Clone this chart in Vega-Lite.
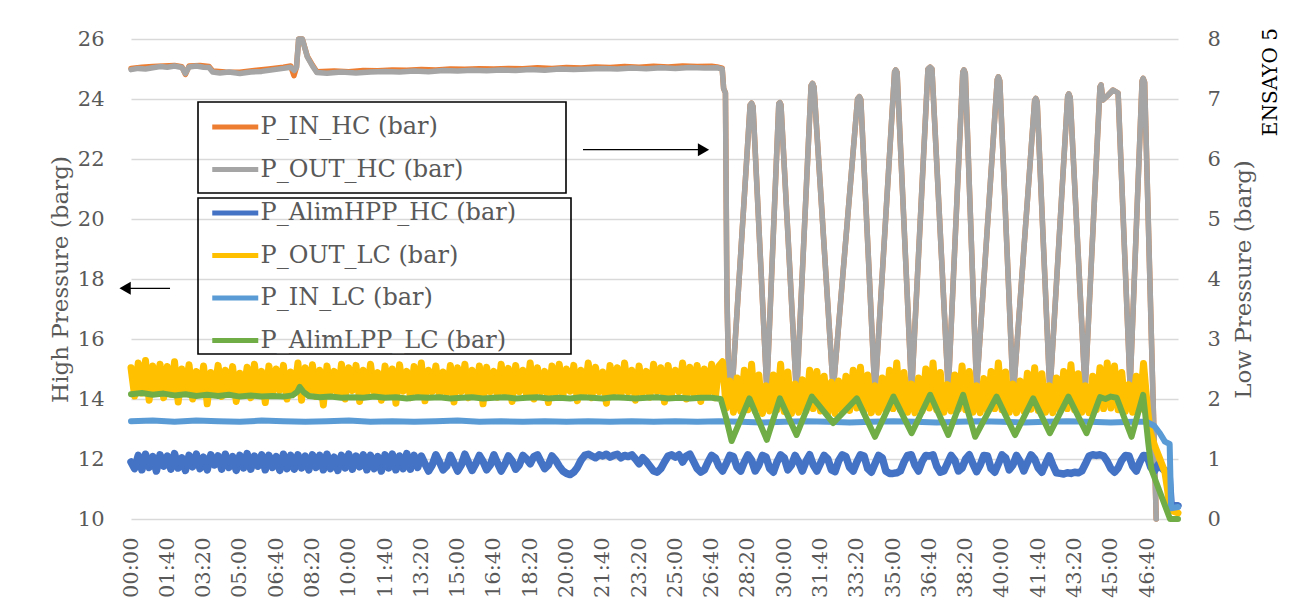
{
"$schema": "https://vega.github.io/schema/vega-lite/v6.json",
"width": 1047, "height": 480,
"autosize": {"type": "none"},
"padding": {"left": 131, "top": 39, "right": 115, "bottom": 87},
"background": "white",
"config": {
  "font": "DejaVu Serif",
  "view": {"stroke": null},
  "axis": {"labelFont": "DejaVu Serif", "titleFont": "DejaVu Serif", "labelColor": "#595959", "titleColor": "#595959", "titleFontWeight": "normal", "domain": false, "ticks": false, "labelFontSize": 21, "titleFontSize": 23},
  "legend": {"symbolType": "M-2,0H2", "symbolSize": 529, "symbolStrokeWidth": 4.5, "labelFont": "DejaVu Serif", "labelFontSize": 24, "labelColor": "#595959", "labelLimit": 800, "rowPadding": 16.5, "strokeColor": "#000000", "strokeWidth": 1.6},
  "line": {"strokeWidth": 5, "strokeJoin": "round", "strokeCap": "round"}
},
"title": {"text": "ENSAYO 5", "orient": "right", "anchor": "start", "angle": 270, "align": "right", "baseline": "top", "font": "DejaVu Serif", "fontSize": 20, "fontWeight": "normal", "color": "#000000", "offset": -14},
"datasets": {
"ho": [{"t":0,"v":24.98},{"t":20,"v":25.02},{"t":40,"v":25.0},{"t":60,"v":25.04},{"t":80,"v":25.08},{"t":100,"v":25.06},{"t":120,"v":25.1},{"t":140,"v":25.05},{"t":150,"v":24.85},{"t":160,"v":25.07},{"t":180,"v":25.1},{"t":200,"v":25.06},{"t":215,"v":25.05},{"t":225,"v":24.9},{"t":245,"v":24.87},{"t":270,"v":24.9},{"t":300,"v":24.85},{"t":330,"v":24.9},{"t":360,"v":24.92},{"t":390,"v":24.97},{"t":420,"v":25.02},{"t":440,"v":25.06},{"t":450,"v":24.95},{"t":456,"v":25.05},{"t":462,"v":26.0},{"t":472,"v":26.0},{"t":486,"v":25.4},{"t":500,"v":25.1},{"t":512,"v":24.88},{"t":540,"v":24.86},{"t":580,"v":24.9},{"t":620,"v":24.87},{"t":660,"v":24.9},{"t":700,"v":24.92},{"t":740,"v":24.9},{"t":780,"v":24.93},{"t":820,"v":24.91},{"t":860,"v":24.95},{"t":900,"v":24.93},{"t":940,"v":24.96},{"t":980,"v":24.94},{"t":1020,"v":24.97},{"t":1060,"v":24.95},{"t":1100,"v":24.98},{"t":1140,"v":24.96},{"t":1180,"v":25.0},{"t":1220,"v":24.98},{"t":1260,"v":25.0},{"t":1300,"v":25.02},{"t":1340,"v":25.0},{"t":1380,"v":25.03},{"t":1420,"v":25.01},{"t":1460,"v":25.04},{"t":1500,"v":25.02},{"t":1540,"v":25.05},{"t":1580,"v":25.03},{"t":1615,"v":25.04},{"t":1629,"v":25.0},{"t":1633,"v":24.35},{"t":1638,"v":24.2},{"t":1642,"v":17.5},{"t":1646,"v":15.2},{"t":1655,"v":14.05},{"t":1706,"v":23.8},{"t":1710,"v":23.86},{"t":1714,"v":23.75},{"t":1752,"v":14.3},{"t":1785,"v":23.85},{"t":1788,"v":23.88},{"t":1791,"v":23.8},{"t":1834,"v":14.1},{"t":1874,"v":24.45},{"t":1878,"v":24.52},{"t":1882,"v":24.4},{"t":1935,"v":14.3},{"t":2002,"v":24.0},{"t":2007,"v":24.08},{"t":2011,"v":23.98},{"t":2050,"v":14.15},{"t":2104,"v":24.9},{"t":2107,"v":24.97},{"t":2111,"v":24.88},{"t":2151,"v":14.25},{"t":2196,"v":25.0},{"t":2202,"v":25.06},{"t":2207,"v":25.0},{"t":2252,"v":14.3},{"t":2292,"v":24.9},{"t":2295,"v":24.97},{"t":2299,"v":24.85},{"t":2330,"v":14.35},{"t":2387,"v":24.65},{"t":2390,"v":24.74},{"t":2394,"v":24.6},{"t":2431,"v":14.1},{"t":2490,"v":23.95},{"t":2493,"v":24.02},{"t":2497,"v":23.9},{"t":2532,"v":14.2},{"t":2581,"v":24.1},{"t":2584,"v":24.17},{"t":2588,"v":24.05},{"t":2629,"v":14.3},{"t":2670,"v":24.4},{"t":2673,"v":24.47},{"t":2678,"v":23.97},{"t":2690,"v":24.1},{"t":2706,"v":24.3},{"t":2720,"v":24.2},{"t":2753,"v":14.4},{"t":2786,"v":24.6},{"t":2789,"v":24.69},{"t":2793,"v":24.55},{"t":2825,"v":10.0}],
"hi": [{"t":0,"v":25.02},{"t":30,"v":25.06},{"t":60,"v":25.08},{"t":90,"v":25.1},{"t":120,"v":25.12},{"t":140,"v":25.08},{"t":150,"v":24.82},{"t":160,"v":25.1},{"t":190,"v":25.12},{"t":215,"v":25.08},{"t":225,"v":24.93},{"t":260,"v":24.9},{"t":300,"v":24.89},{"t":340,"v":24.95},{"t":380,"v":25.0},{"t":420,"v":25.06},{"t":440,"v":25.1},{"t":449,"v":24.78},{"t":456,"v":25.06},{"t":462,"v":26.0},{"t":472,"v":26.0},{"t":486,"v":25.42},{"t":500,"v":25.13},{"t":512,"v":24.91},{"t":560,"v":24.93},{"t":600,"v":24.91},{"t":640,"v":24.95},{"t":680,"v":24.94},{"t":720,"v":24.97},{"t":760,"v":24.96},{"t":800,"v":24.98},{"t":840,"v":24.97},{"t":880,"v":25.0},{"t":920,"v":24.99},{"t":960,"v":25.01},{"t":1000,"v":25.0},{"t":1040,"v":25.02},{"t":1080,"v":25.01},{"t":1120,"v":25.04},{"t":1160,"v":25.02},{"t":1200,"v":25.05},{"t":1240,"v":25.03},{"t":1280,"v":25.07},{"t":1320,"v":25.05},{"t":1360,"v":25.08},{"t":1400,"v":25.06},{"t":1440,"v":25.09},{"t":1480,"v":25.07},{"t":1520,"v":25.1},{"t":1560,"v":25.08},{"t":1600,"v":25.09},{"t":1615,"v":25.07},{"t":1629,"v":25.03},{"t":1633,"v":24.35},{"t":1638,"v":24.2},{"t":1642,"v":17.5},{"t":1646,"v":15.2},{"t":1655,"v":14.05},{"t":1706,"v":23.8},{"t":1710,"v":23.86},{"t":1714,"v":23.75},{"t":1752,"v":14.3},{"t":1785,"v":23.85},{"t":1788,"v":23.88},{"t":1791,"v":23.8},{"t":1834,"v":14.1},{"t":1874,"v":24.45},{"t":1878,"v":24.52},{"t":1882,"v":24.4},{"t":1935,"v":14.3},{"t":2002,"v":24.0},{"t":2007,"v":24.08},{"t":2011,"v":23.98},{"t":2050,"v":14.15},{"t":2104,"v":24.9},{"t":2107,"v":24.97},{"t":2111,"v":24.88},{"t":2151,"v":14.25},{"t":2196,"v":25.0},{"t":2202,"v":25.06},{"t":2207,"v":25.0},{"t":2252,"v":14.3},{"t":2292,"v":24.9},{"t":2295,"v":24.97},{"t":2299,"v":24.85},{"t":2330,"v":14.35},{"t":2387,"v":24.65},{"t":2390,"v":24.74},{"t":2394,"v":24.6},{"t":2431,"v":14.1},{"t":2490,"v":23.95},{"t":2493,"v":24.02},{"t":2497,"v":23.9},{"t":2532,"v":14.2},{"t":2581,"v":24.1},{"t":2584,"v":24.17},{"t":2588,"v":24.05},{"t":2629,"v":14.3},{"t":2670,"v":24.4},{"t":2673,"v":24.47},{"t":2678,"v":23.97},{"t":2690,"v":24.1},{"t":2706,"v":24.3},{"t":2720,"v":24.2},{"t":2753,"v":14.4},{"t":2786,"v":24.6},{"t":2789,"v":24.69},{"t":2793,"v":24.55},{"t":2825,"v":10.0}],
"a": [{"t":0,"v":0.95},{"t":10,"v":0.84},{"t":20,"v":1.06},{"t":30,"v":0.82},{"t":40,"v":1.08},{"t":50,"v":0.86},{"t":60,"v":1.04},{"t":70,"v":0.8},{"t":80,"v":1.07},{"t":90,"v":0.88},{"t":100,"v":1.05},{"t":110,"v":0.83},{"t":120,"v":1.09},{"t":130,"v":0.85},{"t":140,"v":1.02},{"t":150,"v":0.81},{"t":160,"v":1.06},{"t":170,"v":0.87},{"t":180,"v":1.08},{"t":190,"v":0.84},{"t":200,"v":1.03},{"t":210,"v":0.82},{"t":220,"v":1.07},{"t":230,"v":0.9},{"t":240,"v":1.05},{"t":250,"v":0.83},{"t":260,"v":1.08},{"t":270,"v":0.86},{"t":280,"v":1.04},{"t":290,"v":0.81},{"t":300,"v":1.06},{"t":310,"v":0.85},{"t":320,"v":1.09},{"t":330,"v":0.83},{"t":340,"v":1.05},{"t":350,"v":0.88},{"t":360,"v":1.07},{"t":370,"v":0.82},{"t":380,"v":1.06},{"t":390,"v":0.86},{"t":400,"v":1.04},{"t":410,"v":0.81},{"t":420,"v":1.08},{"t":430,"v":0.84},{"t":440,"v":1.06},{"t":450,"v":0.83},{"t":460,"v":1.07},{"t":470,"v":0.85},{"t":480,"v":1.05},{"t":490,"v":0.82},{"t":500,"v":1.07},{"t":510,"v":0.86},{"t":520,"v":1.06},{"t":530,"v":0.82},{"t":540,"v":1.08},{"t":550,"v":0.84},{"t":560,"v":1.03},{"t":570,"v":0.81},{"t":580,"v":1.06},{"t":590,"v":0.85},{"t":600,"v":1.08},{"t":610,"v":0.83},{"t":620,"v":1.05},{"t":630,"v":0.87},{"t":640,"v":1.07},{"t":650,"v":0.82},{"t":660,"v":1.06},{"t":670,"v":0.84},{"t":680,"v":1.04},{"t":690,"v":0.8},{"t":700,"v":1.07},{"t":710,"v":0.85},{"t":720,"v":1.08},{"t":730,"v":0.82},{"t":740,"v":1.05},{"t":750,"v":0.84},{"t":760,"v":1.09},{"t":770,"v":0.83},{"t":780,"v":1.06},{"t":790,"v":0.86},{"t":800,"v":1.05},{"t":810,"v":0.92},{"t":820,"v":0.8},{"t":830,"v":0.9},{"t":840,"v":1.07},{"t":850,"v":0.95},{"t":860,"v":0.82},{"t":870,"v":0.88},{"t":880,"v":1.06},{"t":890,"v":0.93},{"t":900,"v":0.8},{"t":910,"v":0.9},{"t":920,"v":1.08},{"t":930,"v":0.94},{"t":940,"v":0.81},{"t":950,"v":0.92},{"t":960,"v":1.06},{"t":970,"v":0.96},{"t":980,"v":0.82},{"t":990,"v":0.9},{"t":1000,"v":1.07},{"t":1010,"v":0.93},{"t":1020,"v":0.8},{"t":1030,"v":0.91},{"t":1040,"v":1.05},{"t":1050,"v":0.97},{"t":1060,"v":0.83},{"t":1070,"v":0.9},{"t":1080,"v":1.06},{"t":1090,"v":1.0},{"t":1100,"v":0.92},{"t":1110,"v":1.04},{"t":1120,"v":1.07},{"t":1130,"v":0.95},{"t":1140,"v":0.84},{"t":1150,"v":0.9},{"t":1160,"v":1.05},{"t":1170,"v":0.98},{"t":1180,"v":0.88},{"t":1190,"v":0.8},{"t":1200,"v":0.76},{"t":1210,"v":0.74},{"t":1220,"v":0.78},{"t":1230,"v":0.86},{"t":1240,"v":0.98},{"t":1250,"v":1.06},{"t":1260,"v":1.08},{"t":1270,"v":1.05},{"t":1280,"v":1.02},{"t":1290,"v":1.07},{"t":1300,"v":1.05},{"t":1310,"v":1.08},{"t":1320,"v":1.03},{"t":1330,"v":1.06},{"t":1340,"v":1.08},{"t":1350,"v":1.02},{"t":1360,"v":1.06},{"t":1370,"v":1.04},{"t":1380,"v":1.07},{"t":1390,"v":1.0},{"t":1400,"v":0.92},{"t":1410,"v":1.02},{"t":1420,"v":0.96},{"t":1430,"v":0.88},{"t":1440,"v":0.8},{"t":1450,"v":0.78},{"t":1460,"v":0.84},{"t":1470,"v":0.95},{"t":1480,"v":1.05},{"t":1490,"v":1.07},{"t":1500,"v":1.03},{"t":1510,"v":1.07},{"t":1520,"v":0.95},{"t":1530,"v":1.05},{"t":1540,"v":1.08},{"t":1550,"v":0.96},{"t":1560,"v":0.84},{"t":1570,"v":0.78},{"t":1580,"v":0.82},{"t":1590,"v":0.95},{"t":1600,"v":1.06},{"t":1610,"v":1.02},{"t":1620,"v":0.88},{"t":1630,"v":0.8},{"t":1640,"v":0.92},{"t":1650,"v":1.06},{"t":1660,"v":1.04},{"t":1670,"v":0.86},{"t":1680,"v":0.8},{"t":1690,"v":0.95},{"t":1700,"v":1.07},{"t":1710,"v":0.98},{"t":1720,"v":0.8},{"t":1730,"v":0.9},{"t":1740,"v":1.06},{"t":1750,"v":1.03},{"t":1760,"v":0.84},{"t":1770,"v":0.78},{"t":1780,"v":0.95},{"t":1790,"v":1.07},{"t":1800,"v":1.02},{"t":1810,"v":0.82},{"t":1820,"v":0.9},{"t":1830,"v":1.06},{"t":1840,"v":0.95},{"t":1850,"v":0.8},{"t":1860,"v":0.96},{"t":1870,"v":1.07},{"t":1880,"v":0.9},{"t":1890,"v":0.8},{"t":1900,"v":0.93},{"t":1910,"v":1.06},{"t":1920,"v":1.0},{"t":1930,"v":0.82},{"t":1940,"v":0.79},{"t":1950,"v":0.97},{"t":1960,"v":1.07},{"t":1970,"v":1.04},{"t":1980,"v":0.86},{"t":1990,"v":0.8},{"t":2000,"v":0.95},{"t":2010,"v":1.07},{"t":2020,"v":1.05},{"t":2030,"v":0.84},{"t":2040,"v":0.78},{"t":2050,"v":0.92},{"t":2060,"v":1.06},{"t":2070,"v":1.02},{"t":2080,"v":0.8},{"t":2090,"v":0.76},{"t":2100,"v":0.76},{"t":2110,"v":0.77},{"t":2120,"v":0.8},{"t":2130,"v":0.95},{"t":2140,"v":1.06},{"t":2150,"v":1.07},{"t":2160,"v":0.9},{"t":2170,"v":0.8},{"t":2180,"v":0.96},{"t":2190,"v":1.06},{"t":2200,"v":1.05},{"t":2210,"v":1.07},{"t":2220,"v":0.88},{"t":2230,"v":0.78},{"t":2240,"v":0.8},{"t":2250,"v":0.93},{"t":2260,"v":1.06},{"t":2270,"v":0.98},{"t":2280,"v":0.8},{"t":2290,"v":0.85},{"t":2300,"v":1.0},{"t":2310,"v":1.07},{"t":2320,"v":0.92},{"t":2330,"v":0.79},{"t":2340,"v":0.9},{"t":2350,"v":1.06},{"t":2360,"v":1.05},{"t":2370,"v":0.84},{"t":2380,"v":0.78},{"t":2390,"v":0.92},{"t":2400,"v":1.07},{"t":2410,"v":1.02},{"t":2420,"v":0.82},{"t":2430,"v":0.9},{"t":2440,"v":1.06},{"t":2450,"v":0.96},{"t":2460,"v":0.8},{"t":2470,"v":0.94},{"t":2480,"v":1.07},{"t":2490,"v":1.0},{"t":2500,"v":0.85},{"t":2510,"v":0.78},{"t":2520,"v":0.92},{"t":2530,"v":1.05},{"t":2540,"v":0.9},{"t":2550,"v":0.77},{"t":2560,"v":0.76},{"t":2570,"v":0.75},{"t":2580,"v":0.77},{"t":2590,"v":0.76},{"t":2600,"v":0.78},{"t":2610,"v":0.77},{"t":2620,"v":0.8},{"t":2630,"v":0.92},{"t":2640,"v":1.05},{"t":2650,"v":1.07},{"t":2660,"v":1.06},{"t":2670,"v":1.07},{"t":2680,"v":1.05},{"t":2690,"v":0.96},{"t":2700,"v":0.84},{"t":2710,"v":0.78},{"t":2720,"v":0.85},{"t":2730,"v":0.98},{"t":2740,"v":1.06},{"t":2750,"v":1.05},{"t":2760,"v":0.88},{"t":2770,"v":0.8},{"t":2780,"v":0.95},{"t":2790,"v":1.06},{"t":2800,"v":1.05},{"t":2810,"v":0.86},{"t":2820,"v":0.8},{"t":2830,"v":0.9},{"t":2845,"v":0.82},{"t":2860,"v":0.78},{"t":2866,"v":0.25},{"t":2885,"v":0.22}],
"yl": [{"t":0,"v":2.52},{"t":10,"v":2.05},{"t":20,"v":2.6},{"t":30,"v":2.1},{"t":40,"v":2.64},{"t":50,"v":1.98},{"t":60,"v":2.55},{"t":70,"v":2.12},{"t":80,"v":2.58},{"t":90,"v":2.02},{"t":100,"v":2.54},{"t":110,"v":2.08},{"t":120,"v":2.62},{"t":130,"v":1.95},{"t":140,"v":2.5},{"t":150,"v":2.15},{"t":160,"v":2.57},{"t":170,"v":2.0},{"t":180,"v":2.46},{"t":190,"v":2.1},{"t":200,"v":2.55},{"t":210,"v":1.92},{"t":220,"v":2.44},{"t":230,"v":2.12},{"t":240,"v":2.56},{"t":250,"v":2.04},{"t":260,"v":2.48},{"t":270,"v":2.14},{"t":280,"v":2.54},{"t":290,"v":1.96},{"t":300,"v":2.43},{"t":310,"v":2.1},{"t":320,"v":2.53},{"t":330,"v":2.02},{"t":340,"v":2.58},{"t":350,"v":2.12},{"t":360,"v":2.46},{"t":370,"v":1.94},{"t":380,"v":2.55},{"t":390,"v":2.08},{"t":400,"v":2.5},{"t":410,"v":2.14},{"t":420,"v":2.56},{"t":430,"v":2.0},{"t":440,"v":2.45},{"t":450,"v":2.1},{"t":460,"v":2.6},{"t":470,"v":1.98},{"t":480,"v":2.52},{"t":490,"v":2.12},{"t":500,"v":2.57},{"t":510,"v":2.04},{"t":520,"v":2.48},{"t":530,"v":1.9},{"t":540,"v":2.55},{"t":550,"v":2.12},{"t":560,"v":2.46},{"t":570,"v":2.06},{"t":580,"v":2.58},{"t":590,"v":2.0},{"t":600,"v":2.52},{"t":610,"v":2.14},{"t":620,"v":2.56},{"t":630,"v":1.96},{"t":640,"v":2.48},{"t":650,"v":2.08},{"t":660,"v":2.58},{"t":670,"v":2.12},{"t":680,"v":2.44},{"t":690,"v":1.98},{"t":700,"v":2.55},{"t":710,"v":2.1},{"t":720,"v":2.5},{"t":730,"v":1.93},{"t":740,"v":2.57},{"t":750,"v":2.13},{"t":760,"v":2.46},{"t":770,"v":2.02},{"t":780,"v":2.54},{"t":790,"v":2.1},{"t":800,"v":2.6},{"t":810,"v":1.97},{"t":820,"v":2.48},{"t":830,"v":2.12},{"t":840,"v":2.55},{"t":850,"v":2.04},{"t":860,"v":2.45},{"t":870,"v":2.1},{"t":880,"v":2.56},{"t":890,"v":1.95},{"t":900,"v":2.52},{"t":910,"v":2.12},{"t":920,"v":2.58},{"t":930,"v":2.02},{"t":940,"v":2.48},{"t":950,"v":2.1},{"t":960,"v":2.55},{"t":970,"v":1.92},{"t":980,"v":2.53},{"t":990,"v":2.12},{"t":1000,"v":2.46},{"t":1010,"v":2.03},{"t":1020,"v":2.58},{"t":1030,"v":2.1},{"t":1040,"v":2.51},{"t":1050,"v":1.96},{"t":1060,"v":2.56},{"t":1070,"v":2.12},{"t":1080,"v":2.48},{"t":1090,"v":2.06},{"t":1100,"v":2.6},{"t":1110,"v":2.0},{"t":1120,"v":2.52},{"t":1130,"v":2.12},{"t":1140,"v":2.46},{"t":1150,"v":1.94},{"t":1160,"v":2.55},{"t":1170,"v":2.1},{"t":1180,"v":2.58},{"t":1190,"v":2.04},{"t":1200,"v":2.5},{"t":1210,"v":2.13},{"t":1220,"v":2.56},{"t":1230,"v":1.97},{"t":1240,"v":2.48},{"t":1250,"v":2.1},{"t":1260,"v":2.6},{"t":1270,"v":2.02},{"t":1280,"v":2.53},{"t":1290,"v":2.12},{"t":1300,"v":2.45},{"t":1310,"v":1.93},{"t":1320,"v":2.56},{"t":1330,"v":2.1},{"t":1340,"v":2.52},{"t":1350,"v":2.04},{"t":1360,"v":2.6},{"t":1370,"v":2.12},{"t":1380,"v":2.48},{"t":1390,"v":1.98},{"t":1400,"v":2.55},{"t":1410,"v":2.1},{"t":1420,"v":2.46},{"t":1430,"v":2.03},{"t":1440,"v":2.58},{"t":1450,"v":2.12},{"t":1460,"v":2.52},{"t":1470,"v":1.95},{"t":1480,"v":2.56},{"t":1490,"v":2.08},{"t":1500,"v":2.48},{"t":1510,"v":2.12},{"t":1520,"v":2.6},{"t":1530,"v":2.0},{"t":1540,"v":2.53},{"t":1550,"v":2.1},{"t":1560,"v":2.56},{"t":1570,"v":1.96},{"t":1580,"v":2.5},{"t":1590,"v":2.1},{"t":1600,"v":2.58},{"t":1610,"v":2.02},{"t":1620,"v":2.55},{"t":1630,"v":2.62},{"t":1640,"v":1.85},{"t":1650,"v":2.3},{"t":1660,"v":1.78},{"t":1670,"v":2.35},{"t":1680,"v":1.8},{"t":1690,"v":2.48},{"t":1700,"v":1.82},{"t":1710,"v":2.58},{"t":1720,"v":1.8},{"t":1730,"v":2.4},{"t":1740,"v":1.76},{"t":1750,"v":2.22},{"t":1760,"v":1.8},{"t":1770,"v":2.4},{"t":1780,"v":1.82},{"t":1790,"v":2.58},{"t":1800,"v":1.79},{"t":1810,"v":2.45},{"t":1820,"v":1.76},{"t":1830,"v":2.25},{"t":1840,"v":1.78},{"t":1850,"v":2.32},{"t":1860,"v":1.8},{"t":1870,"v":2.48},{"t":1880,"v":1.84},{"t":1890,"v":2.46},{"t":1900,"v":1.8},{"t":1910,"v":2.38},{"t":1920,"v":1.77},{"t":1930,"v":2.28},{"t":1940,"v":1.76},{"t":1950,"v":2.3},{"t":1960,"v":1.79},{"t":1970,"v":2.38},{"t":1980,"v":1.81},{"t":1990,"v":2.48},{"t":2000,"v":1.85},{"t":2010,"v":2.53},{"t":2020,"v":1.8},{"t":2030,"v":2.4},{"t":2040,"v":1.77},{"t":2050,"v":2.22},{"t":2060,"v":1.78},{"t":2070,"v":2.35},{"t":2080,"v":1.8},{"t":2090,"v":2.48},{"t":2100,"v":1.84},{"t":2110,"v":2.6},{"t":2120,"v":1.82},{"t":2130,"v":2.44},{"t":2140,"v":1.78},{"t":2150,"v":2.25},{"t":2160,"v":1.77},{"t":2170,"v":2.35},{"t":2180,"v":1.8},{"t":2190,"v":2.5},{"t":2200,"v":1.85},{"t":2210,"v":2.6},{"t":2220,"v":1.82},{"t":2230,"v":2.44},{"t":2240,"v":1.78},{"t":2250,"v":2.24},{"t":2260,"v":1.8},{"t":2270,"v":2.4},{"t":2280,"v":1.83},{"t":2290,"v":2.55},{"t":2300,"v":1.82},{"t":2310,"v":2.46},{"t":2320,"v":1.78},{"t":2330,"v":2.22},{"t":2340,"v":1.77},{"t":2350,"v":2.34},{"t":2360,"v":1.8},{"t":2370,"v":2.46},{"t":2380,"v":1.84},{"t":2390,"v":2.6},{"t":2400,"v":1.82},{"t":2410,"v":2.45},{"t":2420,"v":1.78},{"t":2430,"v":2.25},{"t":2440,"v":1.77},{"t":2450,"v":2.3},{"t":2460,"v":1.8},{"t":2470,"v":2.43},{"t":2480,"v":1.83},{"t":2490,"v":2.52},{"t":2500,"v":1.81},{"t":2510,"v":2.42},{"t":2520,"v":1.78},{"t":2530,"v":2.22},{"t":2540,"v":1.77},{"t":2550,"v":2.35},{"t":2560,"v":1.8},{"t":2570,"v":2.46},{"t":2580,"v":1.84},{"t":2590,"v":2.57},{"t":2600,"v":1.82},{"t":2610,"v":2.42},{"t":2620,"v":1.78},{"t":2630,"v":2.22},{"t":2640,"v":1.77},{"t":2650,"v":2.38},{"t":2660,"v":1.82},{"t":2670,"v":2.52},{"t":2680,"v":1.84},{"t":2690,"v":2.6},{"t":2700,"v":1.85},{"t":2710,"v":2.55},{"t":2720,"v":1.82},{"t":2730,"v":2.44},{"t":2740,"v":1.79},{"t":2750,"v":2.24},{"t":2760,"v":1.78},{"t":2770,"v":2.38},{"t":2780,"v":1.83},{"t":2790,"v":2.59},{"t":2800,"v":1.9},{"t":2808,"v":1.45},{"t":2822,"v":1.2},{"t":2835,"v":1.0},{"t":2849,"v":0.78},{"t":2856,"v":0.5},{"t":2863,"v":0.15},{"t":2885,"v":0.1}],
"l": [{"t":0,"v":1.63},{"t":60,"v":1.64},{"t":120,"v":1.62},{"t":180,"v":1.64},{"t":240,"v":1.63},{"t":300,"v":1.62},{"t":360,"v":1.64},{"t":420,"v":1.63},{"t":480,"v":1.62},{"t":540,"v":1.63},{"t":600,"v":1.64},{"t":660,"v":1.62},{"t":720,"v":1.63},{"t":780,"v":1.62},{"t":840,"v":1.63},{"t":900,"v":1.64},{"t":960,"v":1.62},{"t":1020,"v":1.63},{"t":1080,"v":1.62},{"t":1140,"v":1.63},{"t":1200,"v":1.62},{"t":1260,"v":1.63},{"t":1320,"v":1.62},{"t":1380,"v":1.63},{"t":1440,"v":1.62},{"t":1500,"v":1.63},{"t":1560,"v":1.62},{"t":1620,"v":1.63},{"t":1680,"v":1.62},{"t":1740,"v":1.61},{"t":1800,"v":1.62},{"t":1860,"v":1.63},{"t":1920,"v":1.62},{"t":1980,"v":1.61},{"t":2040,"v":1.62},{"t":2100,"v":1.63},{"t":2160,"v":1.62},{"t":2220,"v":1.61},{"t":2280,"v":1.62},{"t":2340,"v":1.63},{"t":2400,"v":1.62},{"t":2460,"v":1.61},{"t":2520,"v":1.62},{"t":2580,"v":1.63},{"t":2640,"v":1.62},{"t":2700,"v":1.61},{"t":2760,"v":1.62},{"t":2799,"v":1.62},{"t":2820,"v":1.55},{"t":2835,"v":1.43},{"t":2849,"v":1.29},{"t":2862,"v":1.25},{"t":2866,"v":0.18},{"t":2885,"v":0.2}],
"g": [{"t":0,"v":2.08},{"t":30,"v":2.1},{"t":60,"v":2.07},{"t":90,"v":2.09},{"t":120,"v":2.06},{"t":150,"v":2.08},{"t":180,"v":2.05},{"t":210,"v":2.07},{"t":240,"v":2.05},{"t":270,"v":2.07},{"t":300,"v":2.04},{"t":330,"v":2.06},{"t":360,"v":2.04},{"t":390,"v":2.05},{"t":420,"v":2.04},{"t":445,"v":2.06},{"t":458,"v":2.12},{"t":465,"v":2.2},{"t":475,"v":2.12},{"t":490,"v":2.05},{"t":520,"v":2.03},{"t":550,"v":2.04},{"t":580,"v":2.02},{"t":610,"v":2.03},{"t":640,"v":2.02},{"t":670,"v":2.04},{"t":700,"v":2.02},{"t":730,"v":2.03},{"t":760,"v":2.01},{"t":790,"v":2.03},{"t":820,"v":2.02},{"t":850,"v":2.03},{"t":880,"v":2.01},{"t":910,"v":2.02},{"t":940,"v":2.03},{"t":970,"v":2.01},{"t":1000,"v":2.02},{"t":1030,"v":2.03},{"t":1060,"v":2.01},{"t":1090,"v":2.02},{"t":1120,"v":2.03},{"t":1150,"v":2.01},{"t":1180,"v":2.02},{"t":1210,"v":2.01},{"t":1240,"v":2.03},{"t":1270,"v":2.02},{"t":1300,"v":2.01},{"t":1330,"v":2.03},{"t":1360,"v":2.02},{"t":1390,"v":2.01},{"t":1420,"v":2.02},{"t":1450,"v":2.03},{"t":1480,"v":2.01},{"t":1510,"v":2.02},{"t":1540,"v":2.01},{"t":1570,"v":2.02},{"t":1600,"v":2.02},{"t":1625,"v":2.0},{"t":1640,"v":1.68},{"t":1655,"v":1.3},{"t":1704,"v":2.01},{"t":1752,"v":1.32},{"t":1788,"v":2.01},{"t":1834,"v":1.4},{"t":1876,"v":2.04},{"t":1935,"v":1.6},{"t":2000,"v":2.01},{"t":2050,"v":1.37},{"t":2101,"v":2.04},{"t":2151,"v":1.43},{"t":2202,"v":2.07},{"t":2252,"v":1.4},{"t":2293,"v":2.07},{"t":2326,"v":1.37},{"t":2385,"v":2.04},{"t":2436,"v":1.4},{"t":2486,"v":2.01},{"t":2532,"v":1.43},{"t":2583,"v":2.04},{"t":2633,"v":1.43},{"t":2670,"v":2.03},{"t":2685,"v":2.0},{"t":2700,"v":2.04},{"t":2716,"v":2.02},{"t":2757,"v":1.37},{"t":2789,"v":2.07},{"t":2803,"v":1.27},{"t":2812,"v":0.82},{"t":2840,"v":0.37},{"t":2863,"v":0.0},{"t":2885,"v":0.0}],
"ar1": [{"t":107.5,"t2":-12,"v":17.69}],
"hd1": [{"t":-16.3,"v":17.69}],
"ar2": [{"t":1245.5,"t2":1574,"v":22.31}],
"hd2": [{"t":1577.5,"v":22.31}]
},
"encoding": {
  "x": {"field": "t", "type": "quantitative", "scale": {"domain": [0, 2885], "nice": false, "zero": false},
    "axis": {"values": [0,100,200,300,400,500,600,700,800,900,1000,1100,1200,1300,1400,1500,1600,1700,1800,1900,2000,2100,2200,2300,2400,2500,2600,2700,2800], "labelExpr": "(floor(datum.value/60) < 10 ? '0' : '') + floor(datum.value/60) + ':' + (datum.value % 60 < 10 ? '0' : '') + (datum.value % 60)", "labelAngle": 270, "labelPadding": 18, "labelFlush": false, "labelOverlap": false, "grid": false, "title": null}}
},
"layer": [
  {
    "encoding": {"y": {"field": "v", "type": "quantitative", "scale": {"domain": [10, 26], "nice": false, "zero": false},
      "axis": {"orient": "left", "values": [10,12,14,16,18,20,22,24,26], "grid": true, "gridColor": "#D9D9D9", "gridWidth": 1.3, "labelPadding": 27, "title": "High Pressure (barg)", "titlePadding": 5}}},
    "layer": [
      {"data": {"name": "hi"}, "mark": {"type": "line", "strokeWidth": 5.5},
       "encoding": {"color": {"datum": "P_IN_HC (bar)", "type": "nominal",
         "scale": {"domain": ["P_IN_HC (bar)", "P_OUT_HC (bar)"], "range": ["#ED7D31", "#A5A5A5"]},
         "legend": {"title": null, "orient": "none", "legendX": 67, "legendY": 63, "padding": 11, "symbolOffset": 12.25, "labelOffset": 11.25, "labelExpr": "datum.label + '\u00a0\u00a0\u00a0\u00a0\u00a0\u00a0\u00a0\u00a0\u00a0\u00a0\u00a0\u00a0\u200b'"}}}},
      {"data": {"name": "ho"}, "mark": {"type": "line", "strokeWidth": 5.5},
       "encoding": {"color": {"datum": "P_OUT_HC (bar)", "type": "nominal"}}},
      {"data": {"name": "ar1"}, "mark": {"type": "rule", "color": "#000000", "strokeWidth": 1.3}, "encoding": {"x2": {"field": "t2"}}},
      {"data": {"name": "hd1"}, "mark": {"type": "point", "shape": "triangle-left", "filled": true, "size": 170, "color": "#000000", "opacity": 1}},
      {"data": {"name": "ar2"}, "mark": {"type": "rule", "color": "#000000", "strokeWidth": 1.3}, "encoding": {"x2": {"field": "t2"}}},
      {"data": {"name": "hd2"}, "mark": {"type": "point", "shape": "triangle-right", "filled": true, "size": 170, "color": "#000000", "opacity": 1}}
    ]
  },
  {
    "encoding": {"y": {"field": "v", "type": "quantitative", "scale": {"domain": [0, 8], "nice": false, "zero": false},
      "axis": {"orient": "right", "values": [0,1,2,3,4,5,6,7,8], "grid": false, "labelPadding": 29, "title": "Low Pressure (barg)", "titleAngle": 270, "titleBaseline": "top", "titlePadding": 12}}},
    "layer": [
      {"data": {"name": "a"}, "mark": {"type": "line", "strokeWidth": 7.5},
       "encoding": {"color": {"datum": "P_AlimHPP_HC (bar)", "type": "nominal",
         "scale": {"domain": ["P_AlimHPP_HC (bar)", "P_OUT_LC (bar)", "P_IN_LC (bar)", "P_AlimLPP_LC (bar)"], "range": ["#4472C4", "#FFC000", "#5B9BD5", "#70AD47"]},
         "legend": {"title": null, "orient": "none", "legendX": 67, "legendY": 159, "padding": 1, "symbolOffset": 22.25, "labelOffset": 11.25, "labelExpr": "datum.label + '\u00a0\u00a0\u00a0\u00a0\u00a0\u00a0\u00a0\u200b'"}}}},
      {"data": {"name": "yl"}, "mark": {"type": "line", "strokeWidth": 7},
       "encoding": {"color": {"datum": "P_OUT_LC (bar)", "type": "nominal"}}},
      {"data": {"name": "l"}, "mark": {"type": "line", "strokeWidth": 6},
       "encoding": {"color": {"datum": "P_IN_LC (bar)", "type": "nominal"}}},
      {"data": {"name": "g"}, "mark": {"type": "line", "strokeWidth": 6},
       "encoding": {"color": {"datum": "P_AlimLPP_LC (bar)", "type": "nominal"}}}
    ]
  }
],
"resolve": {"scale": {"y": "independent", "color": "independent"}}
}
